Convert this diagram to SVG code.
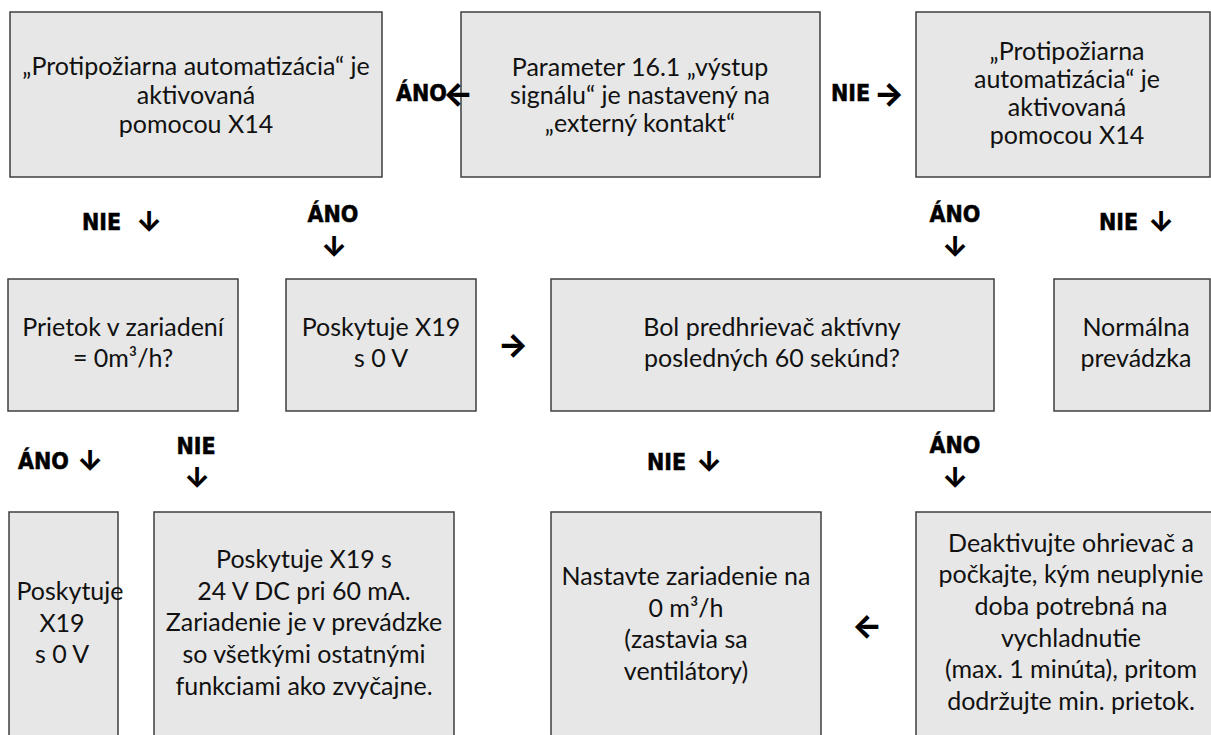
<svg xmlns="http://www.w3.org/2000/svg" width="1211" height="735" viewBox="0 0 1211 735">
<style>
.box{fill:#e7e7e7;stroke:#3f3f3f;stroke-width:1.5}
.t{font-family:Lato,"Noto Sans","Liberation Sans",sans-serif;font-size:25px;fill:#111;text-anchor:middle}
.l{font-family:"DejaVu Sans Condensed","DejaVu Sans","Liberation Sans",sans-serif;font-stretch:condensed;font-weight:bold;font-size:23px;fill:#000;stroke:#000;stroke-width:0.5}
.m{text-anchor:middle}
.a{font-family:Inter,"DejaVu Sans",sans-serif;font-weight:800;fill:#000;text-anchor:middle;dominant-baseline:central}
.h{font-size:32px}
.v{font-size:28px}
</style>
<rect width="1211" height="735" fill="#fff"/>
<g id="n1"><rect class="box" x="10" y="12" width="372" height="165"/>
<text class="t"><tspan x="196" y="75">„Protipožiarna automatizácia“ je</tspan><tspan x="196" y="104">aktivovaná</tspan><tspan x="196" y="133">pomocou X14</tspan></text></g>
<g id="n2"><rect class="box" x="461" y="12" width="359" height="165"/>
<text class="t"><tspan x="640" y="76">Parameter 16.1 „výstup</tspan><tspan x="640" y="104">signálu“ je nastavený na</tspan><tspan x="640" y="132">„externý kontakt“</tspan></text></g>
<g id="n3"><rect class="box" x="916" y="12" width="294" height="165"/>
<text class="t"><tspan x="1067" y="60">„Protipožiarna</tspan><tspan x="1067" y="88">automatizácia“ je</tspan><tspan x="1067" y="116">aktivovaná</tspan><tspan x="1067" y="144">pomocou X14</tspan></text></g>
<g id="n4"><rect class="box" x="8" y="279" width="230" height="132"/>
<text class="t"><tspan x="123" y="336">Prietok v zariadení</tspan><tspan x="123" y="367">= 0m³/h?</tspan></text></g>
<g id="n5"><rect class="box" x="286" y="279" width="190" height="132"/>
<text class="t"><tspan x="381" y="336">Poskytuje X19</tspan><tspan x="381" y="367">s 0 V</tspan></text></g>
<g id="n6"><rect class="box" x="551" y="279" width="443" height="132"/>
<text class="t"><tspan x="772" y="336">Bol predhrievač aktívny</tspan><tspan x="772" y="367">posledných 60 sekúnd?</tspan></text></g>
<g id="n7"><rect class="box" x="1054" y="279" width="156" height="132"/>
<text class="t"><tspan x="1136" y="336">Normálna</tspan><tspan x="1136" y="367">prevádzka</tspan></text></g>
<g id="n8"><rect class="box" x="9" y="512" width="109" height="240"/>
<text class="t"><tspan x="70" y="600">Poskytuje</tspan><tspan x="62" y="632">X19</tspan><tspan x="62" y="663">s 0 V</tspan></text></g>
<g id="n9"><rect class="box" x="154" y="512" width="300" height="240"/>
<text class="t"><tspan x="304" y="568">Poskytuje X19 s</tspan><tspan x="304" y="600">24 V DC pri 60 mA.</tspan><tspan x="304" y="631">Zariadenie je v prevádzke</tspan><tspan x="304" y="663">so všetkými ostatnými</tspan><tspan x="304" y="695">funkciami ako zvyčajne.</tspan></text></g>
<g id="n10"><rect class="box" x="551" y="512" width="270" height="240"/>
<text class="t"><tspan x="686" y="585">Nastavte zariadenie na</tspan><tspan x="686" y="617">0 m³/h</tspan><tspan x="686" y="648">(zastavia sa</tspan><tspan x="686" y="680">ventilátory)</tspan></text></g>
<g id="n11"><rect class="box" x="916" y="512" width="310" height="240"/>
<text class="t"><tspan x="1071" y="552">Deaktivujte ohrievač a</tspan><tspan x="1071" y="583">počkajte, kým neuplynie</tspan><tspan x="1071" y="615">doba potrebná na</tspan><tspan x="1071" y="647">vychladnutie</tspan><tspan x="1071" y="678">(max. 1 minúta), pritom</tspan><tspan x="1071" y="710">dodržujte min. prietok.</tspan></text></g>
<g id="connectors">
<text class="l" x="396" y="101">ÁNO</text><text class="a h" x="458" y="93">←</text>
<text class="l" x="831" y="101">NIE</text><text class="a h" x="889" y="93">→</text>
<text class="l" x="82" y="230">NIE</text><text class="a v" x="149" y="222">↓</text>
<text class="l m" x="333" y="222">ÁNO</text><text class="a v" x="334" y="247">↓</text>
<text class="l m" x="955" y="222">ÁNO</text><text class="a v" x="955" y="247">↓</text>
<text class="l" x="1099" y="230">NIE</text><text class="a v" x="1161" y="222">↓</text>
<text class="a h" x="513" y="344">→</text>
<text class="l" x="18" y="469">ÁNO</text><text class="a v" x="90" y="461">↓</text>
<text class="l m" x="196" y="454">NIE</text><text class="a v" x="197" y="478">↓</text>
<text class="l" x="647" y="470">NIE</text><text class="a v" x="709" y="462">↓</text>
<text class="l m" x="955" y="453">ÁNO</text><text class="a v" x="955" y="478">↓</text>
<text class="a h" x="867" y="625">←</text>
</g>
</svg>
